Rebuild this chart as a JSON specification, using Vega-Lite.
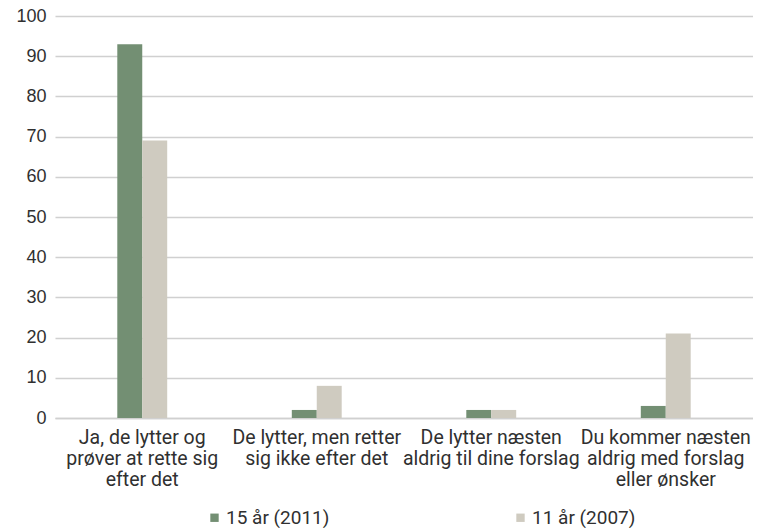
{
  "$schema": "https://vega.github.io/schema/vega-lite/v6.json",
  "width": 698,
  "height": 402,
  "padding": {"left": 15, "top": 7, "right": 0, "bottom": 0},
  "autosize": {"type": "pad"},
  "background": "white",
  "config": {
    "view": {"stroke": null},
    "font": "Roboto"
  },
  "data": {
    "values": [
      {"kategori": "Ja, de lytter og|prøver at rette sig|efter det", "serie": "15 år (2011)", "procent": 93},
      {"kategori": "Ja, de lytter og|prøver at rette sig|efter det", "serie": "11 år (2007)", "procent": 69},
      {"kategori": "De lytter, men retter|sig ikke efter det", "serie": "15 år (2011)", "procent": 2},
      {"kategori": "De lytter, men retter|sig ikke efter det", "serie": "11 år (2007)", "procent": 8},
      {"kategori": "De lytter næsten|aldrig til dine forslag", "serie": "15 år (2011)", "procent": 2},
      {"kategori": "De lytter næsten|aldrig til dine forslag", "serie": "11 år (2007)", "procent": 2},
      {"kategori": "Du kommer næsten|aldrig med forslag|eller ønsker", "serie": "15 år (2011)", "procent": 3},
      {"kategori": "Du kommer næsten|aldrig med forslag|eller ønsker", "serie": "11 år (2007)", "procent": 21}
    ]
  },
  "mark": {"type": "bar"},
  "encoding": {
    "x": {
      "field": "kategori",
      "type": "nominal",
      "sort": null,
      "title": null,
      "scale": {"paddingInner": 0.714, "paddingOuter": 0.357},
      "axis": {
        "labelExpr": "split(datum.label, '|')",
        "labelAngle": 0,
        "labelFont": "Roboto",
        "labelFontSize": 19.5,
        "labelLineHeight": 21,
        "labelColor": "#303030",
        "labelPadding": 10,
        "ticks": false,
        "domainColor": "#d0d0d0",
        "domainWidth": 1.5,
        "labelLimit": 200,
        "labelOverlap": false
      }
    },
    "xOffset": {"field": "serie", "type": "nominal", "sort": ["15 år (2011)", "11 år (2007)"]},
    "y": {
      "field": "procent",
      "type": "quantitative",
      "title": null,
      "scale": {"domain": [0, 100]},
      "axis": {
        "values": [0, 10, 20, 30, 40, 50, 60, 70, 80, 90, 100],
        "labelFont": "Liberation Sans",
        "labelFontSize": 18,
        "labelColor": "#303030",
        "labelPadding": 9,
        "ticks": false,
        "domain": false,
        "gridColor": "#d0d0d0",
        "gridWidth": 1.5
      }
    },
    "color": {
      "field": "serie",
      "type": "nominal",
      "sort": ["15 år (2011)", "11 år (2007)"],
      "scale": {"domain": ["15 år (2011)", "11 år (2007)"], "range": ["#738f73", "#cfcbc0"]},
      "legend": {
        "title": null,
        "orient": "none",
        "legendX": 150,
        "legendY": 492,
        "direction": "horizontal",
        "columns": 2,
        "columnPadding": 181,
        "symbolType": "square",
        "symbolSize": 70,
        "symbolStrokeWidth": 0,
        "labelFont": "Roboto",
        "labelFontSize": 19,
        "labelColor": "#303030",
        "labelOffset": 2
      }
    }
  }
}
